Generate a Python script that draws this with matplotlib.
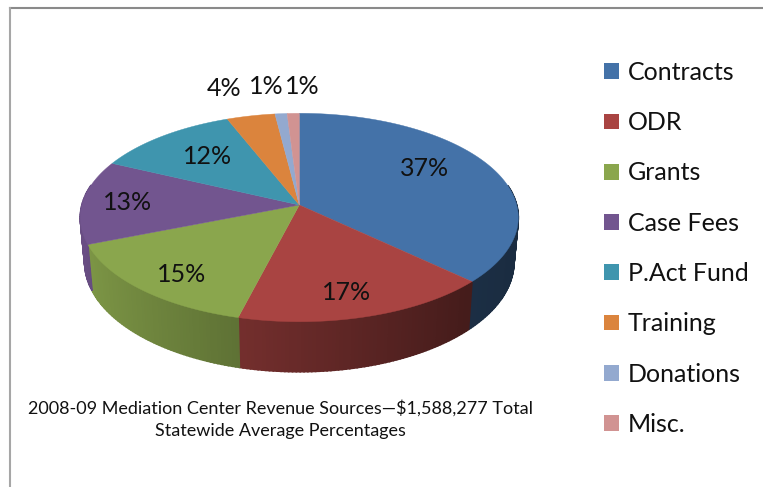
import numpy as np
import matplotlib
matplotlib.use("Agg")
import matplotlib.pyplot as plt
from matplotlib.patches import Patch
from matplotlib.colors import to_rgb

categories = ["Contracts", "ODR", "Grants", "Case Fees", "P.Act Fund", "Training", "Donations", "Misc."]
values = [37, 17, 15, 13, 12, 4, 1, 1]
colors = ["#4472A8", "#A94442", "#8AA64D", "#72558F", "#3F95AE", "#DB843D", "#93A9CF", "#D19392"]
pct_labels = ["37%", "17%", "15%", "13%", "12%", "4%", "1%", "1%"]
label_pos = [(425, 169), (347, 293), (182, 274), (128, 203), (208, 157), (224, 89), (266, 87), (302, 86)]
caption = "2008-09 Mediation Center Revenue Sources\u2014$1,588,277 Total\nStatewide Average Percentages"

plt.rcParams["font.family"] = ["Lato", "DejaVu Sans"]

# pie seen in perspective, all in image pixels
cx, cy = 299.3, 205
a, b, k = 217.4, 102.7, 0.12
depth = 44
rim_shrink = 0.98


def project(theta):
    # theta is clockwise from 12 o'clock
    u, v = np.sin(theta), np.cos(theta)
    w = 1 + k * v
    return cx + a * u / w, cy - b * v / w, depth / w, u


fig = plt.figure(figsize=(7.63, 4.87), dpi=100)
ax = fig.add_axes([0, 0, 1, 1])
ax.set_xlim(0, 763)
ax.set_ylim(487, 0)
ax.axis("off")

edges = np.cumsum([0] + values) / sum(values) * 2 * np.pi

# side wall, shaded left to right
for i in range(len(values)):
    th = np.linspace(edges[i], edges[i + 1], max(int(values[i] * 4), 3))
    for t0, t1 in zip(th[:-1], th[1:]):
        if np.cos((t0 + t1) / 2) > 0.2:
            continue
        x0, y0, d0, u0 = project(t0)
        x1, y1, d1, u1 = project(t1)
        f = np.interp((u0 + u1) / 2, [-1, -0.3, 0.7, 1], [0.92, 0.7, 0.41, 0.38])
        c = np.array(to_rgb(colors[i])) * f
        xb0 = cx + (x0 - cx) * rim_shrink
        xb1 = cx + (x1 - cx) * rim_shrink
        ax.fill([x0, x1, xb1, xb0], [y0, y1, y1 + d1, y0 + d0], color=c, lw=1.2, zorder=2)

# top face
for i in range(len(values)):
    th = np.linspace(edges[i], edges[i + 1], max(int(values[i] * 4), 3))
    x, y, _, _ = project(th)
    ax.fill(np.r_[cx, x], np.r_[cy, y], color=colors[i], lw=0.3, zorder=3)

for txt, (x, y) in zip(pct_labels, label_pos):
    ax.text(x, y, txt, fontsize=18, color="#111111", ha="center", va="center", zorder=4)

ax.text(280.5, 419.5, caption, fontsize=13, color="#111111", ha="center", va="center", linespacing=1.45)

handles = [Patch(facecolor=c, edgecolor="none") for c in colors]
ax.legend(handles, categories, loc="upper left", bbox_to_anchor=(604 / 763, 1 - 61 / 487),
          frameon=False, fontsize=18, labelcolor="#111111", handlelength=0.6, handleheight=0.6,
          handletextpad=0.36, labelspacing=1.09, borderpad=0, borderaxespad=0)

# chart frame
ax.plot([9.5, 763], [7.5, 7.5], color="#8a8a8a", lw=1.5, clip_on=False)
ax.plot([9.5, 9.5], [487, 7.5], color="#a6a6a6", lw=1.5, clip_on=False)

fig.savefig("out.png", dpi=100)
